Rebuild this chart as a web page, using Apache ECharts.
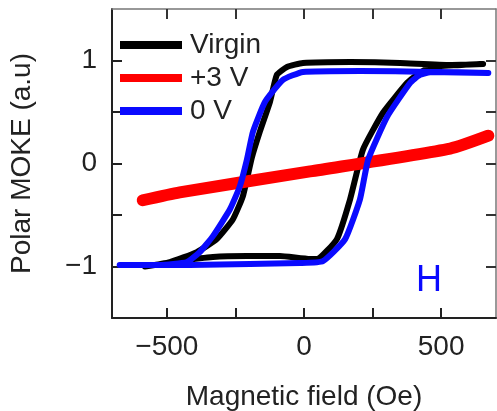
<!DOCTYPE html>
<html>
<head>
<meta charset="utf-8">
<script src="https://cdn.jsdelivr.net/npm/echarts@6/dist/echarts.min.js"></script>
<style>
  html, body { margin: 0; padding: 0; background: #fff; }
  #chart { width: 497px; height: 411px; }
</style>
</head>
<body>
<div id="chart"></div>
<script>
const seriesNames = ["Virgin", "+3 V", "0 V"];

// Virgin loop, [field (Oe), MOKE (a.u)]
const virginLoop = [
  [-580, -1.0], [-453, -0.947], [-332, -0.908], [-208, -0.899], [-88, -0.899],
  [22, -0.928], [47, -0.928], [120, -0.734], [168, -0.348], [215, 0.135],
  [288, 0.493], [376, 0.783], [412, 0.86], [460, 0.937], [560, 0.955], [653, 0.966],
  [533, 0.957], [350, 0.976], [168, 0.986], [-4, 0.976], [-62, 0.937],
  [-99, 0.86], [-124, 0.599], [-161, 0.309], [-190, 0.058], [-223, -0.319],
  [-259, -0.541], [-318, -0.734], [-391, -0.86], [-489, -0.957], [-580, -1.0]
];

// +3 V curve
const plus3V = [
  [-588, -0.357], [-453, -0.28], [22, -0.077], [533, 0.145], [672, 0.27]
];

// 0 V loop
const zeroVLoop = [
  [-672, -0.985], [-416, -0.985], [-197, -0.976], [-15, -0.966], [69, -0.947],
  [150, -0.734], [204, -0.348], [234, 0.039], [303, 0.454], [387, 0.783],
  [423, 0.86], [467, 0.889], [672, 0.879],
  [460, 0.889], [204, 0.899], [-4, 0.889], [-77, 0.812], [-142, 0.599],
  [-186, 0.309], [-208, 0.039], [-234, -0.222], [-270, -0.444], [-332, -0.705],
  [-380, -0.86], [-427, -0.957], [-526, -0.985], [-672, -0.985]
];

const xTicks = [-500, -250, 0, 250, 500];
const xLabels = [-500, 0, 500];
const yTicks = [-1, -0.5, 0, 0.5, 1];
const yLabels = [-1, 0, 1];

const font = "Liberation Sans, Arial, sans-serif";
const minus = (v) => (v < 0 ? "\u2212" + Math.abs(v) : String(v));

const chart = echarts.init(document.getElementById("chart"));

chart.setOption({
  animation: false,
  grid: { left: 112, right: 1, top: 9, bottom: 93, containLabel: false, outerBoundsMode: "none" },
  legend: {
    data: seriesNames,
    orient: "vertical",
    left: 115,
    top: 26,
    icon: "rect",
    itemWidth: 62,
    itemHeight: 8,
    itemGap: 5,
    textStyle: { fontFamily: font, fontSize: 28, color: "#222", padding: [0, 0, 0, 3] }
  },
  xAxis: [
    {
      type: "value",
      min: -700,
      max: 700,
      name: "Magnetic field (Oe)",
      nameLocation: "middle",
      nameGap: 65,
      nameTextStyle: { fontFamily: font, fontSize: 28, color: "#222" },
      axisLine: { onZero: false, lineStyle: { color: "#222", width: 2 } },
      axisTick: { inside: true, length: 10, customValues: xTicks, lineStyle: { color: "#222", width: 2 } },
      axisLabel: { customValues: xLabels, margin: 15, fontFamily: font, fontSize: 28, color: "#222", formatter: minus },
      splitLine: { show: false }
    },
    {
      type: "value",
      position: "top",
      min: -700,
      max: 700,
      axisLine: { show: true, onZero: false, lineStyle: { color: "#777", width: 1.5 } },
      axisTick: { inside: true, length: 10, customValues: xTicks, lineStyle: { color: "#333", width: 2 } },
      axisLabel: { show: false },
      splitLine: { show: false }
    }
  ],
  yAxis: [
    {
      type: "value",
      min: -1.5,
      max: 1.5,
      name: "Polar MOKE (a.u)",
      nameLocation: "middle",
      nameGap: 76,
      nameTextStyle: { fontFamily: font, fontSize: 28, color: "#222" },
      axisLine: { show: true, onZero: false, lineStyle: { color: "#222", width: 2 } },
      axisTick: { show: true, inside: true, length: 10, customValues: yTicks, lineStyle: { color: "#222", width: 2 } },
      axisLabel: { customValues: yLabels, margin: 15, fontFamily: font, fontSize: 28, color: "#222", formatter: minus },
      splitLine: { show: false }
    },
    {
      type: "value",
      position: "right",
      min: -1.5,
      max: 1.5,
      axisLine: { show: true, onZero: false, lineStyle: { color: "#777", width: 1.5 } },
      axisTick: { show: true, inside: true, length: 10, customValues: yTicks, lineStyle: { color: "#333", width: 2 } },
      axisLabel: { show: false },
      splitLine: { show: false }
    }
  ],
  graphic: [
    {
      type: "text",
      left: 416,
      top: 263,
      style: { text: "H", fontFamily: font, fontSize: 36, fill: "#0a0aff" }
    }
  ],
  series: [
    {
      name: "Virgin",
      type: "line",
      data: virginLoop,
      showSymbol: false,
      smooth: 0.15,
      color: "#000",
      lineStyle: { width: 6, color: "#000", cap: "round", join: "round" },
      z: 2
    },
    {
      name: "+3 V",
      type: "line",
      data: plus3V,
      showSymbol: false,
      smooth: 0.2,
      color: "#ff0000",
      lineStyle: { width: 12, color: "#ff0000", cap: "round", join: "round" },
      z: 3
    },
    {
      name: "0 V",
      type: "line",
      data: zeroVLoop,
      showSymbol: false,
      smooth: 0.15,
      color: "#0a0aff",
      lineStyle: { width: 6, color: "#0a0aff", cap: "round", join: "round" },
      z: 4
    }
  ]
});
</script>
</body>
</html>
